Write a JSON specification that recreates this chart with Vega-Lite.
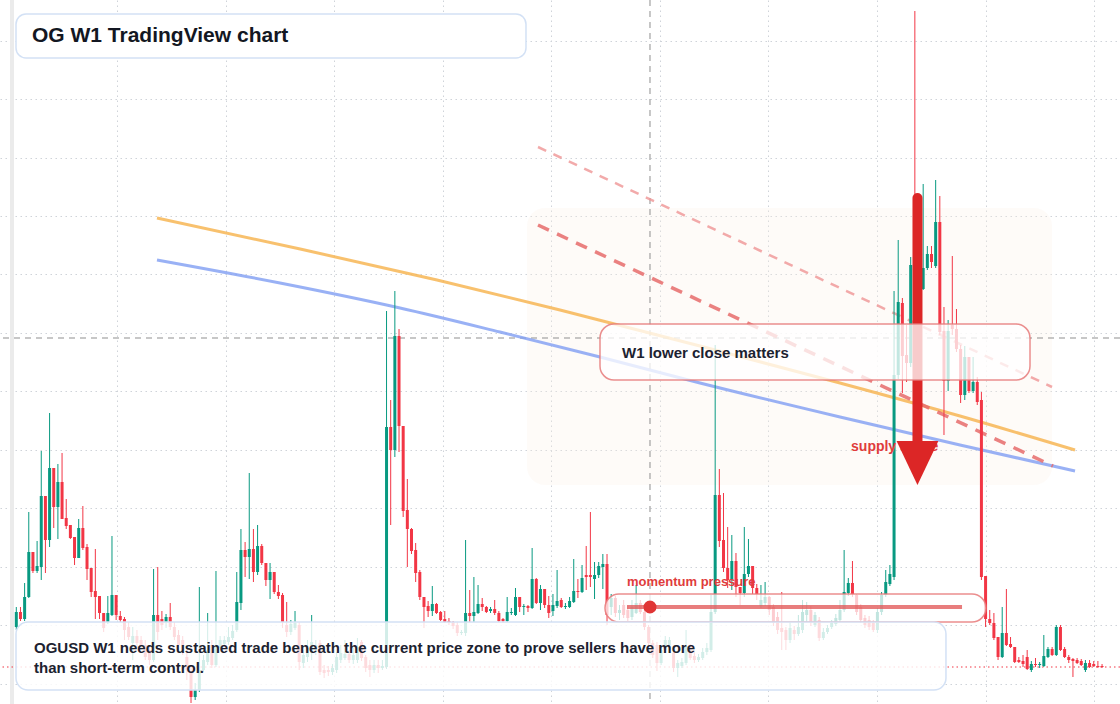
{
"$schema":"https://vega.github.io/schema/vega-lite/v6.json",
"width":1120,"height":704,"autosize":"none","padding":0,"background":"#ffffff",
"config":{"view":{"stroke":null},"axis":{"labels":false,"ticks":false,"domain":false,"grid":true,"gridColor":"#cfd3d9","gridDash":[1.5,3.5],"gridWidth":1}},
"datasets":{
"candles":[
{"w":0,"o":3.85,"h":4.85,"l":3.7,"c":4.6},{"w":1,"o":4.6,"h":4.85,"l":4.15,"c":4.25},{"w":2,"o":4.25,"h":6.05,"l":4.15,"c":5.35},{"w":3,"o":5.35,"h":9.6,"l":5.3,"c":7.6},{"w":4,"o":7.6,"h":7.6,"l":6.55,"c":6.65},{"w":5,"o":6.65,"h":8.15,"l":6.55,"c":6.9},{"w":6,"o":6.85,"h":12.65,"l":6.2,"c":10.4},{"w":7,"o":10.4,"h":10.4,"l":6.55,"c":8.2},{"w":8,"o":8.2,"h":14.55,"l":7.85,"c":11.8},{"w":9,"o":11.8,"h":11.8,"l":8.8,"c":9.85},
{"w":10,"o":9.85,"h":12.0,"l":8.25,"c":11.1},{"w":11,"o":11.1,"h":12.55,"l":9.25,"c":9.25},{"w":12,"o":9.3,"h":10.25,"l":8.75,"c":8.9},{"w":13,"o":8.95,"h":8.95,"l":8.25,"c":8.3},{"w":14,"o":8.35,"h":8.35,"l":6.95,"c":7.3},{"w":15,"o":7.3,"h":9.25,"l":7.3,"c":8.8},{"w":16,"o":8.8,"h":9.9,"l":7.7,"c":7.8},{"w":17,"o":7.85,"h":8.0,"l":6.2,"c":6.75},{"w":18,"o":6.8,"h":6.8,"l":5.35,"c":5.6},{"w":19,"o":5.65,"h":7.75,"l":4.25,"c":5.35},
{"w":20,"o":5.4,"h":5.4,"l":4.25,"c":4.55},{"w":21,"o":4.55,"h":4.55,"l":3.6,"c":3.8},{"w":22,"o":4.1,"h":5.4,"l":4.0,"c":4.55},{"w":23,"o":4.45,"h":8.4,"l":4.4,"c":5.45},{"w":24,"o":5.45,"h":5.45,"l":4.2,"c":4.45},{"w":25,"o":4.4,"h":4.65,"l":4.1,"c":4.2},{"w":26,"o":4.25,"h":4.35,"l":3.2,"c":3.7},{"w":27,"o":3.85,"h":4.1,"l":3.2,"c":3.35},{"w":28,"o":3.05,"h":3.85,"l":2.2,"c":3.4},{"w":29,"o":3.4,"h":3.7,"l":2.8,"c":3.05},
{"w":30,"o":3.2,"h":3.4,"l":2.7,"c":2.85},{"w":31,"o":2.95,"h":3.2,"l":2.2,"c":2.35},{"w":32,"o":2.7,"h":2.95,"l":1.95,"c":2.2},{"w":33,"o":2.2,"h":6.75,"l":2.1,"c":4.45},{"w":34,"o":4.45,"h":6.85,"l":3.2,"c":3.6},{"w":35,"o":4.25,"h":4.65,"l":3.7,"c":3.95},{"w":36,"o":4.1,"h":4.5,"l":3.8,"c":4.35},{"w":37,"o":4.35,"h":5.05,"l":3.7,"c":3.85},{"w":38,"o":3.85,"h":4.1,"l":3.2,"c":3.35},{"w":39,"o":3.45,"h":3.7,"l":2.7,"c":2.95},
{"w":40,"o":3.2,"h":3.4,"l":2.45,"c":2.7},{"w":41,"o":2.35,"h":2.7,"l":1.2,"c":1.7},{"w":42,"o":1.6,"h":1.95,"l":0.05,"c":0.35},{"w":43,"o":0.35,"h":1.05,"l":0.2,"c":0.7},{"w":44,"o":0.7,"h":5.85,"l":0.6,"c":1.7},{"w":45,"o":1.7,"h":2.45,"l":1.6,"c":2.2},{"w":46,"o":2.1,"h":4.55,"l":1.95,"c":2.7},{"w":47,"o":2.95,"h":3.2,"l":1.8,"c":1.95},{"w":48,"o":1.95,"h":6.65,"l":1.85,"c":2.85},{"w":49,"o":2.8,"h":3.4,"l":2.7,"c":3.2},
{"w":50,"o":3.0,"h":3.4,"l":2.85,"c":3.2},{"w":51,"o":3.1,"h":3.85,"l":2.95,"c":3.35},{"w":52,"o":3.3,"h":3.95,"l":3.2,"c":3.65},{"w":53,"o":3.7,"h":6.6,"l":3.6,"c":5.1},{"w":54,"o":5.05,"h":8.75,"l":4.7,"c":7.7},{"w":55,"o":7.7,"h":8.1,"l":6.35,"c":7.35},{"w":56,"o":7.35,"h":11.55,"l":6.25,"c":7.75},{"w":57,"o":7.75,"h":8.75,"l":6.1,"c":6.6},{"w":58,"o":6.6,"h":8.95,"l":6.45,"c":7.9},{"w":59,"o":7.9,"h":8.0,"l":6.95,"c":7.05},
{"w":60,"o":7.05,"h":7.05,"l":5.9,"c":6.2},{"w":61,"o":6.2,"h":7.05,"l":5.25,"c":6.6},{"w":62,"o":6.6,"h":6.6,"l":5.5,"c":5.6},{"w":63,"o":5.6,"h":5.95,"l":5.25,"c":5.4},{"w":64,"o":5.45,"h":5.55,"l":3.8,"c":4.1},{"w":65,"o":3.95,"h":5.1,"l":3.35,"c":3.6},{"w":66,"o":3.6,"h":4.2,"l":3.45,"c":4.0},{"w":67,"o":3.8,"h":4.65,"l":3.7,"c":4.05},{"w":68,"o":3.95,"h":4.1,"l":1.7,"c":2.1},{"w":69,"o":2.05,"h":2.7,"l":1.8,"c":2.45},
{"w":70,"o":2.35,"h":3.2,"l":2.1,"c":2.8},{"w":71,"o":2.55,"h":4.45,"l":2.2,"c":3.1},{"w":72,"o":2.7,"h":3.2,"l":2.45,"c":2.95},{"w":73,"o":3.05,"h":3.2,"l":1.45,"c":1.6},{"w":74,"o":1.7,"h":1.95,"l":1.3,"c":1.55},{"w":75,"o":1.7,"h":1.9,"l":1.4,"c":1.6},{"w":76,"o":1.6,"h":2.0,"l":1.45,"c":1.8},{"w":77,"o":1.7,"h":2.6,"l":1.55,"c":2.35},{"w":78,"o":2.2,"h":2.95,"l":2.05,"c":2.55},{"w":79,"o":2.3,"h":3.2,"l":2.2,"c":2.5},
{"w":80,"o":2.5,"h":2.7,"l":2.05,"c":2.2},{"w":81,"o":2.2,"h":2.8,"l":2.0,"c":2.45},{"w":82,"o":2.2,"h":3.3,"l":2.05,"c":2.85},{"w":83,"o":3.1,"h":3.2,"l":2.15,"c":2.3},{"w":84,"o":2.35,"h":2.45,"l":1.6,"c":1.8},{"w":85,"o":1.95,"h":2.2,"l":1.35,"c":1.7},{"w":86,"o":1.7,"h":2.2,"l":1.55,"c":1.95},{"w":87,"o":1.95,"h":2.2,"l":1.55,"c":1.8},{"w":88,"o":1.8,"h":2.2,"l":1.7,"c":1.9},{"w":89,"o":1.85,"h":19.65,"l":1.75,"c":13.85},
{"w":90,"o":13.85,"h":15.2,"l":8.95,"c":12.7},{"w":91,"o":12.7,"h":20.65,"l":12.35,"c":18.4},{"w":92,"o":18.4,"h":18.75,"l":12.6,"c":13.9},{"w":93,"o":13.9,"h":13.9,"l":9.35,"c":9.65},{"w":94,"o":9.7,"h":11.25,"l":6.85,"c":8.75},{"w":95,"o":8.75,"h":8.8,"l":7.5,"c":7.65},{"w":96,"o":7.7,"h":8.05,"l":6.1,"c":6.55},{"w":97,"o":6.6,"h":6.7,"l":5.2,"c":5.35},{"w":98,"o":5.35,"h":5.35,"l":3.8,"c":4.85},{"w":99,"o":4.9,"h":5.15,"l":4.35,"c":4.65},
{"w":100,"o":4.65,"h":5.9,"l":4.4,"c":5.0},{"w":101,"o":5.0,"h":5.05,"l":4.5,"c":4.55},{"w":102,"o":4.6,"h":4.65,"l":4.15,"c":4.2},{"w":103,"o":4.25,"h":4.65,"l":4.05,"c":4.1},{"w":104,"o":4.15,"h":4.3,"l":3.95,"c":4.05},{"w":105,"o":4.1,"h":4.15,"l":3.75,"c":3.9},{"w":106,"o":3.95,"h":4.1,"l":3.4,"c":3.55},{"w":107,"o":3.55,"h":3.7,"l":3.45,"c":3.6},{"w":108,"o":3.55,"h":8.2,"l":3.4,"c":4.55},{"w":109,"o":4.55,"h":5.7,"l":4.1,"c":4.4},
{"w":110,"o":4.4,"h":6.35,"l":4.1,"c":4.6},{"w":111,"o":4.55,"h":5.95,"l":4.5,"c":5.0},{"w":112,"o":5.0,"h":5.3,"l":4.65,"c":4.85},{"w":113,"o":4.85,"h":4.9,"l":4.55,"c":4.6},{"w":114,"o":4.65,"h":4.85,"l":4.55,"c":4.75},{"w":115,"o":4.75,"h":5.2,"l":4.45,"c":4.55},{"w":116,"o":4.55,"h":4.65,"l":4.1,"c":4.15},{"w":117,"o":4.25,"h":4.3,"l":4.05,"c":4.15},{"w":118,"o":4.15,"h":5.35,"l":4.1,"c":4.6},{"w":119,"o":4.55,"h":4.8,"l":4.45,"c":4.6},
{"w":120,"o":4.45,"h":5.8,"l":4.4,"c":5.35},{"w":121,"o":5.35,"h":5.35,"l":4.6,"c":4.85},{"w":122,"o":4.85,"h":5.0,"l":4.45,"c":4.9},{"w":123,"o":4.9,"h":4.95,"l":4.6,"c":4.8},{"w":124,"o":4.8,"h":7.8,"l":4.75,"c":6.25},{"w":125,"o":6.25,"h":6.3,"l":5.0,"c":5.05},{"w":126,"o":5.05,"h":5.95,"l":4.7,"c":5.75},{"w":127,"o":5.75,"h":5.75,"l":4.8,"c":4.95},{"w":128,"o":4.95,"h":5.4,"l":4.3,"c":4.55},{"w":129,"o":4.65,"h":5.5,"l":4.4,"c":4.95},
{"w":130,"o":4.9,"h":6.7,"l":4.8,"c":5.15},{"w":131,"o":5.2,"h":5.3,"l":4.8,"c":4.85},{"w":132,"o":4.85,"h":5.05,"l":4.75,"c":4.9},{"w":133,"o":4.85,"h":5.35,"l":4.8,"c":5.15},{"w":134,"o":5.1,"h":7.25,"l":5.05,"c":5.65},{"w":135,"o":5.65,"h":6.25,"l":5.3,"c":5.6},{"w":136,"o":5.6,"h":6.95,"l":5.55,"c":6.3},{"w":137,"o":6.45,"h":7.9,"l":5.7,"c":6.35},{"w":138,"o":6.45,"h":9.6,"l":5.85,"c":6.35},{"w":139,"o":6.25,"h":7.1,"l":5.25,"c":6.45},
{"w":140,"o":6.45,"h":7.1,"l":6.3,"c":6.9},{"w":141,"o":6.85,"h":7.5,"l":5.75,"c":7.0},{"w":142,"o":7.0,"h":7.5,"l":3.95,"c":4.45},{"w":143,"o":4.85,"h":5.5,"l":4.45,"c":5.3},{"w":144,"o":5.3,"h":5.4,"l":4.35,"c":4.55},{"w":145,"o":4.55,"h":4.95,"l":4.2,"c":4.7},{"w":146,"o":4.95,"h":5.2,"l":4.3,"c":4.45},{"w":147,"o":4.7,"h":4.9,"l":4.15,"c":4.3},{"w":148,"o":4.35,"h":5.2,"l":4.2,"c":4.85},{"w":149,"o":4.55,"h":5.95,"l":4.5,"c":5.05},
{"w":150,"o":5.05,"h":5.2,"l":4.5,"c":4.6},{"w":151,"o":4.6,"h":4.7,"l":3.7,"c":3.85},{"w":152,"o":3.85,"h":3.95,"l":2.95,"c":3.05},{"w":153,"o":3.05,"h":3.2,"l":2.3,"c":2.45},{"w":154,"o":2.95,"h":3.1,"l":1.65,"c":2.05},{"w":155,"o":2.05,"h":2.95,"l":1.95,"c":2.7},{"w":156,"o":2.7,"h":3.4,"l":2.6,"c":3.2},{"w":157,"o":2.95,"h":3.35,"l":2.8,"c":3.2},{"w":158,"o":2.55,"h":2.7,"l":1.6,"c":1.8},{"w":159,"o":1.8,"h":2.2,"l":1.35,"c":2.05},
{"w":160,"o":1.9,"h":2.3,"l":1.8,"c":2.1},{"w":161,"o":2.05,"h":3.7,"l":1.95,"c":2.9},{"w":162,"o":2.9,"h":3.0,"l":2.2,"c":2.3},{"w":163,"o":2.4,"h":2.6,"l":2.05,"c":2.2},{"w":164,"o":2.2,"h":2.5,"l":2.1,"c":2.35},{"w":165,"o":2.3,"h":2.8,"l":2.2,"c":2.6},{"w":166,"o":2.6,"h":3.05,"l":2.45,"c":2.8},{"w":167,"o":2.7,"h":5.45,"l":2.6,"c":4.6},{"w":168,"o":4.6,"h":17.95,"l":4.5,"c":10.45},{"w":169,"o":10.45,"h":11.75,"l":7.85,"c":8.15},
{"w":170,"o":8.2,"h":10.55,"l":6.6,"c":6.8},{"w":171,"o":6.8,"h":8.85,"l":5.8,"c":6.2},{"w":172,"o":6.2,"h":8.45,"l":5.7,"c":7.15},{"w":173,"o":7.15,"h":7.55,"l":5.35,"c":5.85},{"w":174,"o":5.85,"h":5.85,"l":4.95,"c":5.55},{"w":175,"o":5.55,"h":8.85,"l":5.35,"c":6.5},{"w":176,"o":6.5,"h":8.25,"l":6.35,"c":6.9},{"w":177,"o":6.9,"h":6.9,"l":5.5,"c":5.8},{"w":178,"o":5.8,"h":6.0,"l":5.2,"c":5.5},{"w":179,"o":4.9,"h":5.95,"l":4.8,"c":5.2},
{"w":180,"o":5.05,"h":6.1,"l":4.9,"c":5.35},{"w":181,"o":5.35,"h":5.4,"l":4.45,"c":4.7},{"w":182,"o":4.85,"h":5.0,"l":3.9,"c":4.05},{"w":183,"o":4.35,"h":4.6,"l":3.5,"c":3.7},{"w":184,"o":3.8,"h":5.6,"l":2.7,"c":3.6},{"w":185,"o":3.7,"h":3.85,"l":2.7,"c":3.2},{"w":186,"o":3.2,"h":4.1,"l":3.05,"c":3.8},{"w":187,"o":3.7,"h":3.9,"l":3.2,"c":3.5},{"w":188,"o":3.5,"h":4.45,"l":3.4,"c":3.85},{"w":189,"o":3.7,"h":5.2,"l":3.55,"c":4.6},
{"w":190,"o":4.45,"h":5.1,"l":4.1,"c":4.7},{"w":191,"o":4.7,"h":4.9,"l":3.9,"c":4.1},{"w":192,"o":3.95,"h":4.6,"l":3.85,"c":4.45},{"w":193,"o":4.2,"h":4.35,"l":3.15,"c":3.3},{"w":194,"o":3.3,"h":3.8,"l":3.2,"c":3.6},{"w":195,"o":3.6,"h":3.95,"l":3.5,"c":3.8},{"w":196,"o":3.85,"h":4.2,"l":3.75,"c":4.05},{"w":197,"o":4.0,"h":4.5,"l":3.9,"c":4.3},{"w":198,"o":4.2,"h":5.2,"l":4.1,"c":4.7},{"w":199,"o":4.7,"h":7.7,"l":4.6,"c":5.6},
{"w":200,"o":5.55,"h":6.3,"l":5.4,"c":6.05},{"w":201,"o":6.05,"h":7.15,"l":5.35,"c":5.5},{"w":202,"o":5.45,"h":5.5,"l":4.45,"c":4.6},{"w":203,"o":4.85,"h":5.0,"l":4.05,"c":4.2},{"w":204,"o":4.3,"h":4.45,"l":3.8,"c":3.95},{"w":205,"o":4.2,"h":4.4,"l":3.7,"c":3.85},{"w":206,"o":4.05,"h":4.2,"l":3.6,"c":3.7},{"w":207,"o":3.7,"h":4.8,"l":3.55,"c":4.6},{"w":208,"o":4.6,"h":5.6,"l":4.45,"c":5.45},{"w":209,"o":5.45,"h":6.7,"l":5.35,"c":6.1},
{"w":210,"o":6.0,"h":6.95,"l":5.9,"c":6.5},{"w":211,"o":6.35,"h":20.65,"l":6.2,"c":16.45},{"w":212,"o":16.45,"h":23.2,"l":16.25,"c":20.1},{"w":213,"o":20.05,"h":20.3,"l":15.55,"c":17.4},{"w":214,"o":17.45,"h":18.95,"l":16.1,"c":17.05},{"w":215,"o":17.05,"h":22.35,"l":16.85,"c":21.95},{"w":216,"o":21.95,"h":34.65,"l":19.95,"c":20.2},{"w":217,"o":20.2,"h":21.2,"l":19.7,"c":20.75},{"w":218,"o":20.75,"h":26.0,"l":20.7,"c":21.8},{"w":219,"o":21.8,"h":22.9,"l":21.7,"c":22.5},
{"w":220,"o":22.5,"h":22.9,"l":21.8,"c":22.1},{"w":221,"o":21.9,"h":26.2,"l":21.8,"c":24.1},{"w":222,"o":24.1,"h":25.4,"l":18.45,"c":18.6},{"w":223,"o":18.65,"h":19.85,"l":13.45,"c":16.15},{"w":224,"o":16.15,"h":19.2,"l":15.65,"c":18.65},{"w":225,"o":18.95,"h":22.4,"l":18.45,"c":18.75},{"w":226,"o":18.75,"h":19.75,"l":17.6,"c":17.75},{"w":227,"o":17.75,"h":17.95,"l":15.05,"c":15.45},{"w":228,"o":15.45,"h":17.9,"l":15.2,"c":17.35},{"w":229,"o":17.35,"h":17.35,"l":15.55,"c":15.65},
{"w":230,"o":15.65,"h":17.35,"l":15.55,"c":16.1},{"w":231,"o":16.1,"h":16.35,"l":14.95,"c":15.1},{"w":232,"o":15.2,"h":15.6,"l":6.2,"c":6.35},{"w":233,"o":6.4,"h":6.4,"l":3.85,"c":4.25},{"w":234,"o":4.25,"h":4.7,"l":3.95,"c":4.05},{"w":235,"o":4.05,"h":4.55,"l":3.2,"c":3.3},{"w":236,"o":3.35,"h":3.35,"l":2.2,"c":2.35},{"w":237,"o":2.35,"h":4.85,"l":2.3,"c":3.55},{"w":238,"o":3.55,"h":5.75,"l":2.9,"c":2.95},{"w":239,"o":3.0,"h":3.35,"l":2.8,"c":2.85},
{"w":240,"o":2.85,"h":2.85,"l":2.05,"c":2.1},{"w":241,"o":2.2,"h":2.35,"l":2.05,"c":2.1},{"w":242,"o":2.15,"h":2.45,"l":1.85,"c":2.0},{"w":243,"o":2.35,"h":2.7,"l":1.7,"c":1.75},{"w":244,"o":1.7,"h":2.15,"l":1.6,"c":2.0},{"w":245,"o":2.0,"h":2.3,"l":1.85,"c":1.95},{"w":246,"o":1.95,"h":2.1,"l":1.8,"c":2.0},{"w":247,"o":1.9,"h":3.45,"l":1.85,"c":2.4},{"w":248,"o":2.35,"h":2.85,"l":2.3,"c":2.75},{"w":249,"o":2.75,"h":2.85,"l":2.4,"c":2.45},
{"w":250,"o":2.45,"h":3.95,"l":2.4,"c":3.85},{"w":251,"o":3.85,"h":3.95,"l":2.65,"c":2.7},{"w":252,"o":2.75,"h":2.85,"l":2.3,"c":2.35},{"w":253,"o":2.35,"h":2.45,"l":2.05,"c":2.2},{"w":254,"o":2.25,"h":2.3,"l":1.35,"c":2.15},{"w":255,"o":2.2,"h":2.3,"l":2.0,"c":2.05},{"w":256,"o":2.15,"h":2.25,"l":1.9,"c":1.95},{"w":257,"o":1.7,"h":2.2,"l":1.6,"c":2.05},{"w":258,"o":2.05,"h":2.2,"l":1.8,"c":1.85},{"w":259,"o":2.0,"h":2.15,"l":1.85,"c":1.9},
{"w":260,"o":1.9,"h":2.15,"l":1.8,"c":1.85},{"w":261,"o":1.9,"h":2.0,"l":1.8,"c":1.85}
],
"orange":[{"w":33.82,"p":24.3},{"w":68.24,"p":22.75},{"w":101.13,"p":21.2},{"w":130.7,"p":19.7},{"w":164.35,"p":17.9},{"w":198.01,"p":16.05},{"w":226.85,"p":14.4},{"w":254.5,"p":12.7}],
"blue":[{"w":33.82,"p":22.2},{"w":63.39,"p":21.05},{"w":92.24,"p":19.8},{"w":116.27,"p":18.6},{"w":140.31,"p":17.35},{"w":164.35,"p":16.05},{"w":198.01,"p":14.35},{"w":226.85,"p":12.95},{"w":254.5,"p":11.65}]
},
"layer":[
{"data":{"values":[{"a":-1.514,"b":-0.553,"lo":0,"hi":35.2}]},"mark":{"type":"rect","fill":"#ebebeb"},
 "encoding":{"x":{"field":"a","type":"quantitative","title":null,"scale":{"domain":[-3.918,265.313],"nice":false,"zero":false},"axis":{"values":[24.21,50.31,76.41,102.51,128.61,154.71,180.81,206.91,233.01,259.11],"labels":false,"ticks":false,"domain":false,"title":null}},"x2":{"field":"b"},
 "y":{"field":"lo","type":"quantitative","title":null,"scale":{"domain":[0,35.2],"nice":false,"zero":false},"axis":{"values":[1.0225,3.945,6.8675,9.79,12.7125,15.635,18.5575,21.48,24.4025,27.325,30.2475,33.17],"labels":false,"ticks":false,"domain":false,"title":null}},"y2":{"field":"hi"}}},
{"data":{"values":[{"a":122.77,"b":248.97,"lo":10.95,"hi":24.8}]},"mark":{"type":"rect","fill":"#fcefe6","opacity":0.28,"cornerRadius":18},
 "encoding":{"x":{"field":"a","type":"quantitative","title":null},"x2":{"field":"b"},"y":{"field":"lo","type":"quantitative","title":null},"y2":{"field":"hi"}}},
{"data":{"values":[{"a":152.33}]},"mark":{"type":"rule","stroke":"#8f8f8f","strokeWidth":1,"strokeDash":[6,5]},
 "encoding":{"x":{"field":"a","type":"quantitative","title":null}}},
{"data":{"values":[{"p":18.3}]},"mark":{"type":"rule","stroke":"#8f8f8f","strokeWidth":1,"strokeDash":[6,5]},
 "encoding":{"y":{"field":"p","type":"quantitative","title":null}}},
{"data":{"values":[{"p":1.85}]},"mark":{"type":"rule","stroke":"#f23645","strokeWidth":1.2,"strokeDash":[1.5,3]},
 "encoding":{"y":{"field":"p","type":"quantitative","title":null}}},
{"data":{"name":"orange"},"mark":{"type":"line","stroke":"#f6b24a","strokeWidth":3,"opacity":0.8,"interpolate":"monotone"},
 "encoding":{"x":{"field":"w","type":"quantitative","title":null},"y":{"field":"p","type":"quantitative","title":null}}},
{"data":{"name":"blue"},"mark":{"type":"line","stroke":"#7f9ef3","strokeWidth":3,"opacity":0.8,"interpolate":"monotone"},
 "encoding":{"x":{"field":"w","type":"quantitative","title":null},"y":{"field":"p","type":"quantitative","title":null}}},
{"data":{"values":[{"a":125.41,"b":248.97,"p1":27.85,"p2":15.85}]},"mark":{"type":"rule","stroke":"#ef9595","strokeWidth":2.5,"strokeDash":[9,8],"opacity":0.8},
 "encoding":{"x":{"field":"a","type":"quantitative","title":null},"x2":{"field":"b"},"y":{"field":"p1","type":"quantitative","title":null},"y2":{"field":"p2"}}},
{"data":{"values":[{"a":125.41,"b":249.21,"p1":23.95,"p2":11.9}]},"mark":{"type":"rule","stroke":"#e66b6b","strokeWidth":3.5,"strokeDash":[12,9],"opacity":0.85},
 "encoding":{"x":{"field":"a","type":"quantitative","title":null},"x2":{"field":"b"},"y":{"field":"p1","type":"quantitative","title":null},"y2":{"field":"p2"}}},
{"data":{"name":"candles"},"mark":{"type":"rule","strokeWidth":1},
 "encoding":{"x":{"field":"w","type":"quantitative","title":null},"y":{"field":"l","type":"quantitative","title":null},"y2":{"field":"h"},
 "stroke":{"condition":{"test":"datum.c >= datum.o","value":"#089981"},"value":"#f23645"}}},
{"data":{"name":"candles"},"mark":{"type":"rule","strokeWidth":3},
 "encoding":{"x":{"field":"w","type":"quantitative","title":null},"y":{"field":"o","type":"quantitative","title":null},"y2":{"field":"c"},
 "stroke":{"condition":{"test":"datum.c >= datum.o","value":"#089981"},"value":"#f23645"}}},
{"data":{"values":[{"a":200.66,"p":12.85,"t":"supply surge"}]},"mark":{"type":"text","align":"left","baseline":"middle","font":"Liberation Sans","fontWeight":"bold","fontSize":14,"fill":"#e03c3c"},
 "encoding":{"x":{"field":"a","type":"quantitative","title":null},"y":{"field":"p","type":"quantitative","title":null},"text":{"field":"t"}}},
{"data":{"values":[{"a":216.63,"p1":25.3,"p2":12.9}]},"mark":{"type":"rule","stroke":"#dc2626","strokeWidth":10,"strokeCap":"round"},
 "encoding":{"x":{"field":"a","type":"quantitative","title":null},"y":{"field":"p1","type":"quantitative","title":null},"y2":{"field":"p2"}}},
{"data":{"values":[{"a":216.63,"p":12.05}]},"mark":{"type":"point","shape":"M-0.95,-1L0.95,-1L0,1Z","size":1936,"filled":true,"fill":"#dc2626","opacity":1,"strokeWidth":0},
 "encoding":{"x":{"field":"a","type":"quantitative","title":null},"y":{"field":"p","type":"quantitative","title":null}}},
{"data":{"values":[{"a":140.31,"b":243.68,"lo":16.2,"hi":19.0}]},"mark":{"type":"rect","fill":"#ffffff","fillOpacity":0.76,"stroke":"#e67a7a","strokeOpacity":0.85,"strokeWidth":1.5,"cornerRadius":14},
 "encoding":{"x":{"field":"a","type":"quantitative","title":null},"x2":{"field":"b"},"y":{"field":"lo","type":"quantitative","title":null},"y2":{"field":"hi"}}},
{"data":{"values":[{"a":141.51,"b":233.1,"lo":4.1,"hi":5.5}]},"mark":{"type":"rect","fill":"#ffffff","fillOpacity":0.75,"stroke":"#e87a7a","strokeOpacity":0.85,"strokeWidth":1.5,"cornerRadius":14},
 "encoding":{"x":{"field":"a","type":"quantitative","title":null},"x2":{"field":"b"},"y":{"field":"lo","type":"quantitative","title":null},"y2":{"field":"hi"}}},
{"data":{"values":[{"a":146.8,"b":227.34,"p":4.85}]},"mark":{"type":"rule","stroke":"#e05252","strokeWidth":4,"opacity":0.75},
 "encoding":{"x":{"field":"a","type":"quantitative","title":null},"x2":{"field":"b"},"y":{"field":"p","type":"quantitative","title":null}}},
{"data":{"values":[{"a":152.33,"p":4.85}]},"mark":{"type":"point","shape":"circle","size":170,"filled":true,"fill":"#e03535","opacity":1,"strokeWidth":0},
 "encoding":{"x":{"field":"a","type":"quantitative","title":null},"y":{"field":"p","type":"quantitative","title":null}}},
{"data":{"values":[{"a":-0.07,"b":223.48,"lo":0.7,"hi":4.1}]},"mark":{"type":"rect","fill":"#ffffff","fillOpacity":0.82,"stroke":"#d3e1f5","strokeWidth":1.5,"cornerRadius":12},
 "encoding":{"x":{"field":"a","type":"quantitative","title":null},"x2":{"field":"b"},"y":{"field":"lo","type":"quantitative","title":null},"y2":{"field":"hi"}}},
{"data":{"values":[{"a":-0.07,"b":122.52,"lo":32.3,"hi":34.5}]},"mark":{"type":"rect","fill":"#ffffff","fillOpacity":1,"stroke":"#d3e1f5","strokeWidth":1.5,"cornerRadius":10},
 "encoding":{"x":{"field":"a","type":"quantitative","title":null},"x2":{"field":"b"},"y":{"field":"lo","type":"quantitative","title":null},"y2":{"field":"hi"}}},
{"data":{"values":[{"a":3.77,"p":33.4,"t":"OG W1 TradingView chart"}]},"mark":{"type":"text","align":"left","baseline":"middle","font":"Liberation Sans","fontWeight":"bold","fontSize":21,"fill":"#131722"},
 "encoding":{"x":{"field":"a","type":"quantitative","title":null},"y":{"field":"p","type":"quantitative","title":null},"text":{"field":"t"}}},
{"data":{"values":[{"a":145.6,"p":17.55,"t":"W1 lower close matters"},{"a":4.25,"p":2.82,"t":"OGUSD W1 needs sustained trade beneath the current price zone to prove sellers have more"},{"a":4.25,"p":1.82,"t":"than short-term control."}]},"mark":{"type":"text","align":"left","baseline":"middle","font":"Liberation Sans","fontWeight":"bold","fontSize":15,"fill":"#1c2230"},
 "encoding":{"x":{"field":"a","type":"quantitative","title":null},"y":{"field":"p","type":"quantitative","title":null},"text":{"field":"t"}}},
{"data":{"values":[{"a":146.8,"p":6.1,"t":"momentum pressure"}]},"mark":{"type":"text","align":"left","baseline":"middle","font":"Liberation Sans","fontWeight":"bold","fontSize":13,"fill":"#e03c3c"},
 "encoding":{"x":{"field":"a","type":"quantitative","title":null},"y":{"field":"p","type":"quantitative","title":null},"text":{"field":"t"}}}
]
}
